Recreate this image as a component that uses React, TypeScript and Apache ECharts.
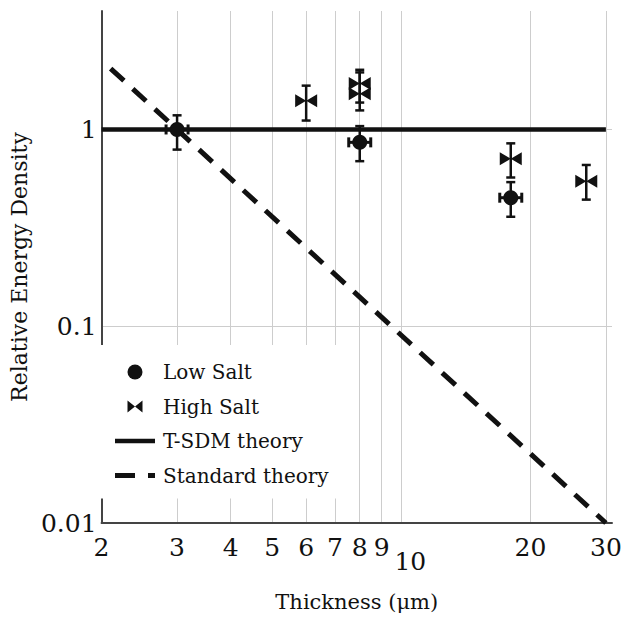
import React, { useEffect, useRef } from 'react';
import * as echarts from 'echarts';

// ---- data ----
const xTicks = [2, 3, 4, 5, 6, 7, 8, 9, 10, 20, 30];
const yTicks = [0.01, 0.1, 1];
const yTickLabels = ['0.01', '0.1', '1'];

const lowSaltX = [3, 8, 18];
const lowSaltY = [1.0, 0.86, 0.45];
const lowSaltLow = [0.79, 0.69, 0.36];
const lowSaltHigh = [1.18, 1.04, 0.54];

const highSaltX = [6, 8, 8, 18, 27];
const highSaltY = [1.4, 1.71, 1.52, 0.71, 0.545];
const highSaltLow = [1.11, 1.37, 1.25, 0.57, 0.44];
const highSaltHigh = [1.67, 2.01, 1.95, 0.85, 0.66];

const tsdmX = [2, 30];
const tsdmY = [1, 1];
const standardX = [2.1, 30];
const standardY = [2.04, 0.01];

const INK = '#111';
const FONT = 'DejaVu Serif';

const CIRCLE_ICON = 'path://M0 0M40 22M27.5 11A7.5 7.5 0 1 1 12.5 11A7.5 7.5 0 1 1 27.5 11Z';
const BOWTIE_ICON = 'path://M0 0M40 22M12.5 5L20 11L12.5 17ZM27.5 5L20 11L27.5 17Z';
const SOLID_ICON = 'path://M0 0M40 22M0 8.75H40V13.25H0Z';
const DASH_ICON = 'path://M0 0M40 22M0 8.5H20V13.5H0ZM33 8.5H40V13.5H33Z';
const BOWTIE_SYMBOL = 'path://M0 0L11 6.5L0 13ZM22 0L11 6.5L22 13Z';

function errorRenderer(whisker: number) {
  return (params: any, api: any) => {
    const x = api.value(0);
    const y = api.value(1);
    const lo = api.value(2);
    const hi = api.value(3);
    const c = api.coord([x, y]);
    const top = api.coord([x, hi]);
    const bot = api.coord([x, lo]);
    const cap = 4.5;
    const st = { stroke: INK, lineWidth: 2.5, fill: null };
    const children: any[] = [
      { type: 'line', shape: { x1: c[0], y1: top[1], x2: c[0], y2: bot[1] }, style: st },
      { type: 'line', shape: { x1: c[0] - cap, y1: top[1], x2: c[0] + cap, y2: top[1] }, style: st },
      { type: 'line', shape: { x1: c[0] - cap, y1: bot[1], x2: c[0] + cap, y2: bot[1] }, style: st },
    ];
    if (whisker > 0) {
      children.push(
        { type: 'line', shape: { x1: c[0] - whisker, y1: c[1], x2: c[0] + whisker, y2: c[1] }, style: { ...st, lineWidth: 3 } },
        { type: 'line', shape: { x1: c[0] - whisker, y1: c[1] - 5, x2: c[0] - whisker, y2: c[1] + 5 }, style: { ...st, lineWidth: 3 } },
        { type: 'line', shape: { x1: c[0] + whisker, y1: c[1] - 5, x2: c[0] + whisker, y2: c[1] + 5 }, style: { ...st, lineWidth: 3 } }
      );
    }
    return { type: 'group', children };
  };
}

function xLabel(v: number) {
  const s = String(Math.round(v));
  return v === 10 ? `{low|${s}}` : `{n|${s}}`;
}

function yLabel(v: number) {
  let best = 0;
  let bd = Infinity;
  yTicks.forEach((t, i) => {
    const d = Math.abs(Math.log10(v) - Math.log10(t));
    if (d < bd) { bd = d; best = i; }
  });
  return yTickLabels[best];
}

export default function App() {
  const ref = useRef<HTMLDivElement>(null);
  useEffect(() => {
    const chart = echarts.init(ref.current!, null, { renderer: 'svg' });
    const option: any = {
      animation: false,
      backgroundColor: '#fff',
      grid: { left: 98, right: 13, top: 11, bottom: 97, containLabel: false },
      legend: {
        orient: 'vertical',
        left: 100,
        top: 345,
        padding: [16, 20, 12, 15],
        backgroundColor: '#fff',
        itemWidth: 40,
        itemHeight: 22,
        itemGap: 12.5,
        align: 'left',
        selectedMode: false,
        textStyle: { fontFamily: FONT, fontSize: 20, color: INK, padding: [0, 0, 0, 3] },
        data: [
          { name: 'Low Salt', icon: CIRCLE_ICON },
          { name: 'High Salt', icon: BOWTIE_ICON },
          { name: 'T-SDM theory', icon: SOLID_ICON },
          { name: 'Standard theory', icon: DASH_ICON },
        ],
      },
      xAxis: {
        type: 'log',
        logBase: 10,
        min: 2,
        max: 31,
        name: 'Thickness (μm)',
        nameLocation: 'middle',
        nameGap: 68,
        nameTextStyle: { fontFamily: FONT, fontSize: 21, color: INK },
        axisLine: { show: true, onZero: false, lineStyle: { color: '#444', width: 2 } },
        axisTick: { show: false, customValues: xTicks },
        axisLabel: {
          customValues: xTicks,
          formatter: xLabel,
          margin: 12,
          color: INK,
          fontFamily: FONT,
          fontSize: 25,
          rich: {
            n: { fontFamily: FONT, fontSize: 25, color: INK, lineHeight: 25 },
            low: { fontFamily: FONT, fontSize: 25, color: INK, lineHeight: 53, padding: [0, 0, 0, 18] },
          },
        },
        splitLine: { show: true, lineStyle: { color: '#cdcdcd', width: 1 } },
      },
      yAxis: {
        type: 'log',
        logBase: 10,
        min: 0.01,
        max: 4,
        name: 'Relative Energy Density',
        nameLocation: 'middle',
        nameGap: 64,
        nameTextStyle: { fontFamily: FONT, fontSize: 22, color: INK },
        axisLine: { show: true, onZero: false, lineStyle: { color: '#444', width: 2 } },
        axisTick: { show: false, customValues: yTicks },
        axisLabel: {
          customValues: yTicks,
          formatter: yLabel,
          margin: 5,
          color: INK,
          fontFamily: FONT,
          fontSize: 25,
          padding: [12, 0, 0, 0],
        },
        splitLine: { show: true, lineStyle: { color: '#cdcdcd', width: 1 } },
      },
      series: [
        {
          name: 'T-SDM theory',
          type: 'line',
          data: tsdmX.map((x, i) => [x, tsdmY[i]]),
          showSymbol: false,
          symbol: 'none',
          lineStyle: { color: INK, width: 4.5 },
          itemStyle: { color: INK },
          z: 3,
        },
        {
          name: 'Standard theory',
          type: 'line',
          data: standardX.map((x, i) => [x, standardY[i]]),
          showSymbol: false,
          symbol: 'none',
          lineStyle: { color: INK, width: 5, type: [18, 12] },
          itemStyle: { color: INK },
          z: 3,
        },
        {
          name: 'Low Salt errors',
          type: 'custom',
          renderItem: errorRenderer(11),
          encode: { x: 0, y: 1 },
          data: lowSaltX.map((x, i) => [x, lowSaltY[i], lowSaltLow[i], lowSaltHigh[i]]),
          z: 4,
          silent: true,
        },
        {
          name: 'High Salt errors',
          type: 'custom',
          renderItem: errorRenderer(0),
          encode: { x: 0, y: 1 },
          data: highSaltX.map((x, i) => [x, highSaltY[i], highSaltLow[i], highSaltHigh[i]]),
          z: 4,
          silent: true,
        },
        {
          name: 'Low Salt',
          type: 'scatter',
          data: lowSaltX.map((x, i) => [x, lowSaltY[i]]),
          symbol: 'circle',
          symbolSize: 15,
          itemStyle: { color: INK, opacity: 1 },
          z: 5,
        },
        {
          name: 'High Salt',
          type: 'scatter',
          data: highSaltX.map((x, i) => [x, highSaltY[i]]),
          symbol: BOWTIE_SYMBOL,
          symbolSize: [22, 13],
          itemStyle: { color: INK, opacity: 1 },
          z: 5,
        },
      ],
    };
    chart.setOption(option);
    return () => chart.dispose();
  }, []);
  return <div ref={ref} style={{ position: 'fixed', left: 0, top: 0, width: 625, height: 620 }} />;
}
